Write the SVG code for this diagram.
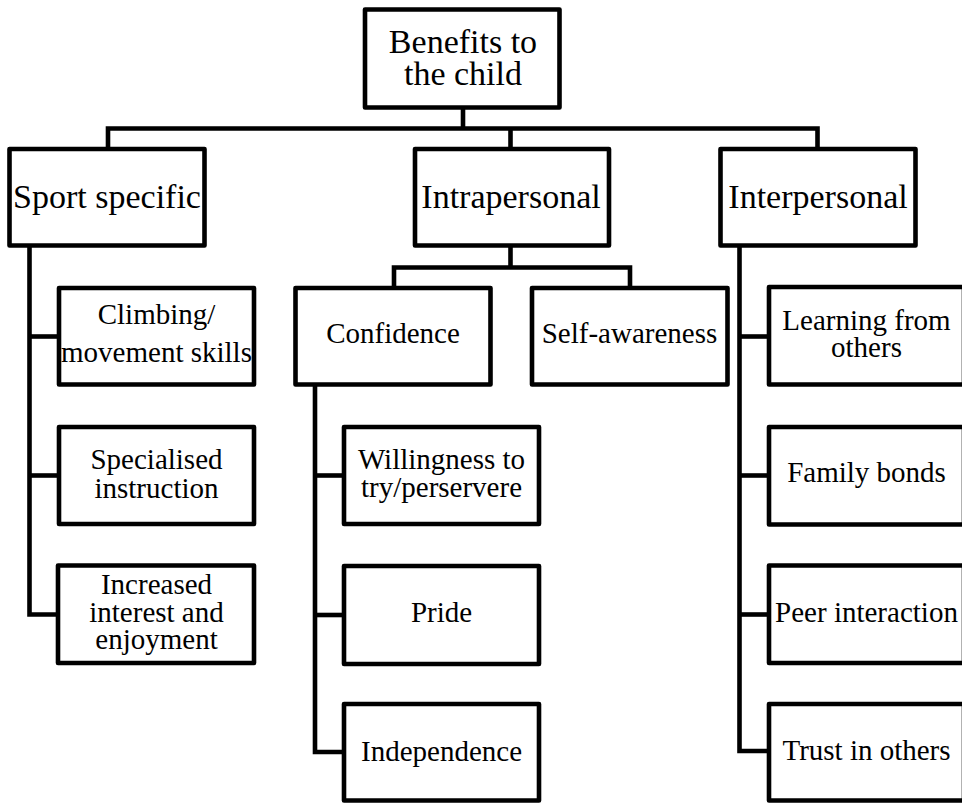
<svg xmlns="http://www.w3.org/2000/svg" width="962" height="803" viewBox="0 0 962 803">
<style>
.box{fill:#fff;stroke:#000;stroke-width:4.6;stroke-linejoin:round}
.con{fill:none;stroke:#000;stroke-width:4.6;stroke-linejoin:miter}
.big{font-family:"Liberation Serif","Times New Roman",serif;font-size:34px;fill:#000;text-anchor:middle}
.sm{font-family:"Liberation Serif","Times New Roman",serif;font-size:29px;fill:#000;text-anchor:middle}
</style>
<rect width="962" height="803" fill="#fff"/>
<g id="connectors">
<path class="con" d="M463 107.5 V128.5"/>
<path class="con" d="M108 149 V128.5 H817.5 V149"/>
<path class="con" d="M510.5 128.5 V149"/>
<path class="con" d="M29.5 245.5 V614.5 H58"/>
<path class="con" d="M29.5 336.5 H59"/>
<path class="con" d="M29.5 475.5 H59"/>
<path class="con" d="M510.5 245.5 V267.5"/>
<path class="con" d="M394 288 V267.5 H630 V288"/>
<path class="con" d="M315 384.5 V752 H344"/>
<path class="con" d="M315 475.5 H344"/>
<path class="con" d="M315 615 H344"/>
<path class="con" d="M739.5 245.5 V751 H769"/>
<path class="con" d="M739.5 336.5 H769"/>
<path class="con" d="M739.5 475.5 H769"/>
<path class="con" d="M739.5 614.5 H769"/>
</g>
<g id="root">
<rect class="box" x="365" y="9.5" width="194.5" height="98"/>
<text class="big" x="463" y="53">Benefits to</text>
<text class="big" x="463" y="85">the child</text>
</g>
<g id="sport">
<rect class="box" x="9.5" y="149" width="195" height="96.5"/>
<text class="big" x="107" y="208">Sport specific</text>
</g>
<g id="intra">
<rect class="box" x="415" y="149" width="194" height="96.5"/>
<text class="big" x="511" y="208">Intrapersonal</text>
</g>
<g id="inter">
<rect class="box" x="720.5" y="149" width="195" height="96.5"/>
<text class="big" x="818" y="208">Interpersonal</text>
</g>
<g id="climbing">
<rect class="box" x="59" y="288" width="195" height="96.5"/>
<text class="sm" x="156.5" y="324">Climbing/</text>
<text class="sm" x="156.5" y="362">movement skills</text>
</g>
<g id="specialised">
<rect class="box" x="59" y="427" width="195" height="97"/>
<text class="sm" x="156.5" y="469">Specialised</text>
<text class="sm" x="156.5" y="498">instruction</text>
</g>
<g id="increased">
<rect class="box" x="58" y="565.5" width="196" height="97.5"/>
<text class="sm" x="156.5" y="594">Increased</text>
<text class="sm" x="156.5" y="621.5">interest and</text>
<text class="sm" x="156.5" y="649">enjoyment</text>
</g>
<g id="confidence">
<rect class="box" x="295.5" y="288" width="195" height="96.5"/>
<text class="sm" x="393" y="343">Confidence</text>
</g>
<g id="selfawareness">
<rect class="box" x="532" y="288" width="195.5" height="96.5"/>
<text class="sm" x="629.5" y="343">Self-awareness</text>
</g>
<g id="willingness">
<rect class="box" x="344" y="427" width="195" height="97"/>
<text class="sm" x="441.5" y="469">Willingness to</text>
<text class="sm" x="441.5" y="497">try/perservere</text>
</g>
<g id="pride">
<rect class="box" x="344" y="566" width="195" height="98"/>
<text class="sm" x="441.5" y="622">Pride</text>
</g>
<g id="independence">
<rect class="box" x="344" y="704" width="195" height="96.5"/>
<text class="sm" x="441.5" y="761">Independence</text>
</g>
<g id="learning">
<rect class="box" x="769" y="287" width="195" height="97.5"/>
<text class="sm" x="866.5" y="330">Learning from</text>
<text class="sm" x="866.5" y="357">others</text>
</g>
<g id="family">
<rect class="box" x="769" y="427" width="195" height="97.5"/>
<text class="sm" x="866.5" y="482">Family bonds</text>
</g>
<g id="peer">
<rect class="box" x="769" y="565.5" width="195" height="97.5"/>
<text class="sm" x="866.5" y="622">Peer interaction</text>
</g>
<g id="trust">
<rect class="box" x="769" y="704" width="195" height="96.5"/>
<text class="sm" x="866.5" y="760">Trust in others</text>
</g>
</svg>
